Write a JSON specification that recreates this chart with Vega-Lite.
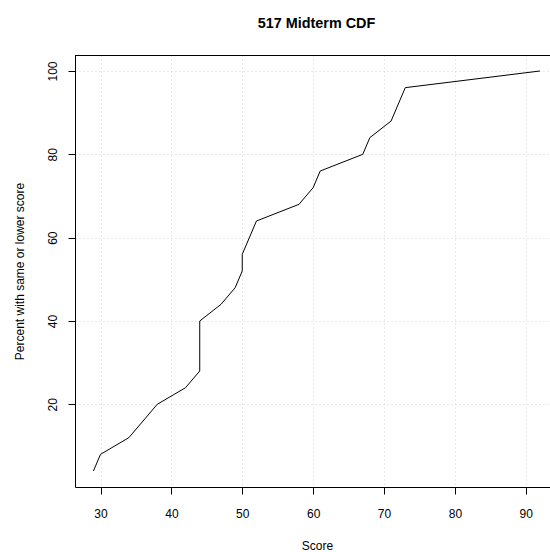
{
  "$schema": "https://vega.github.io/schema/vega-lite/v6.json",
  "autosize": "none",
  "padding": {"left": 75, "top": 55, "right": 0, "bottom": 65},
  "width": 475,
  "height": 432,
  "background": "white",
  "config": {
    "view": {"stroke": null},
    "font": "Liberation Sans"
  },
  "title": {
    "text": "517 Midterm CDF",
    "anchor": "middle",
    "frame": "group",
    "dx": 4,
    "offset": 13,
    "baseline": "alphabetic",
    "font": "Liberation Sans",
    "fontSize": 14.4,
    "fontWeight": "bold",
    "color": "black"
  },
  "data": {
    "values": [
      {"score": 29, "pct": 4},
      {"score": 30, "pct": 8},
      {"score": 34, "pct": 12},
      {"score": 38, "pct": 20},
      {"score": 42, "pct": 24},
      {"score": 44, "pct": 28},
      {"score": 44, "pct": 40},
      {"score": 47, "pct": 44},
      {"score": 49, "pct": 48},
      {"score": 50, "pct": 52},
      {"score": 50, "pct": 56},
      {"score": 52, "pct": 64},
      {"score": 58, "pct": 68},
      {"score": 60, "pct": 72},
      {"score": 61, "pct": 76},
      {"score": 67, "pct": 80},
      {"score": 68, "pct": 84},
      {"score": 71, "pct": 88},
      {"score": 73, "pct": 96},
      {"score": 92, "pct": 100}
    ]
  },
  "layer": [
    {
      "mark": {"type": "line", "color": "black", "strokeWidth": 1, "clip": true},
      "encoding": {
        "x": {
          "field": "score", "type": "quantitative", "sort": null,
          "scale": {"domain": [26.40, 93.42], "nice": false, "zero": false},
          "axis": {
            "title": "Score",
            "values": [30, 40, 50, 60, 70, 80, 90],
            "grid": true,
            "gridColor": "#D3D3D3",
            "gridDash": [1, 3],
            "gridWidth": 1,
            "gridOpacity": 1,
            "domain": true,
            "domainColor": "black",
            "domainWidth": 1,
            "ticks": true,
            "tickColor": "black",
            "tickSize": 7,
            "tickWidth": 1,
            "labelFont": "Liberation Sans",
            "labelFontSize": 12,
            "labelColor": "black",
            "labelBaseline": "alphabetic",
            "labelPadding": 23,
            "labelFlush": false,
            "labelOverlap": false,
            "titleFont": "Liberation Sans",
            "titleFontSize": 12,
            "titleFontWeight": "normal",
            "titleColor": "black",
            "titleBaseline": "alphabetic",
            "titleAnchor": "middle",
            "titleX": 242,
            "titleY": 62.3
          }
        },
        "y": {
          "field": "pct", "type": "quantitative",
          "scale": {"domain": [0.16, 103.84], "nice": false, "zero": false},
          "axis": {
            "title": "Percent with same or lower score",
            "values": [20, 40, 60, 80, 100],
            "grid": true,
            "gridColor": "#D3D3D3",
            "gridDash": [1, 3],
            "gridWidth": 1,
            "gridOpacity": 1,
            "domain": true,
            "domainColor": "black",
            "domainWidth": 1,
            "ticks": true,
            "tickColor": "black",
            "tickSize": 7,
            "tickWidth": 1,
            "labelFont": "Liberation Sans",
            "labelFontSize": 12,
            "labelColor": "black",
            "labelAngle": -90,
            "labelAlign": "center",
            "labelBaseline": "alphabetic",
            "labelPadding": 12,
            "labelFlush": false,
            "labelOverlap": false,
            "titleFont": "Liberation Sans",
            "titleFontSize": 12,
            "titleFontWeight": "normal",
            "titleColor": "black",
            "titleAngle": -90,
            "titleAlign": "center",
            "titleBaseline": "alphabetic",
            "titleX": -51.5,
            "titleY": 216
          }
        }
      }
    },
    {
      "mark": {"type": "rule", "color": "black", "strokeWidth": 1},
      "encoding": {"y": {"datum": 103.72}}
    }
  ]
}
